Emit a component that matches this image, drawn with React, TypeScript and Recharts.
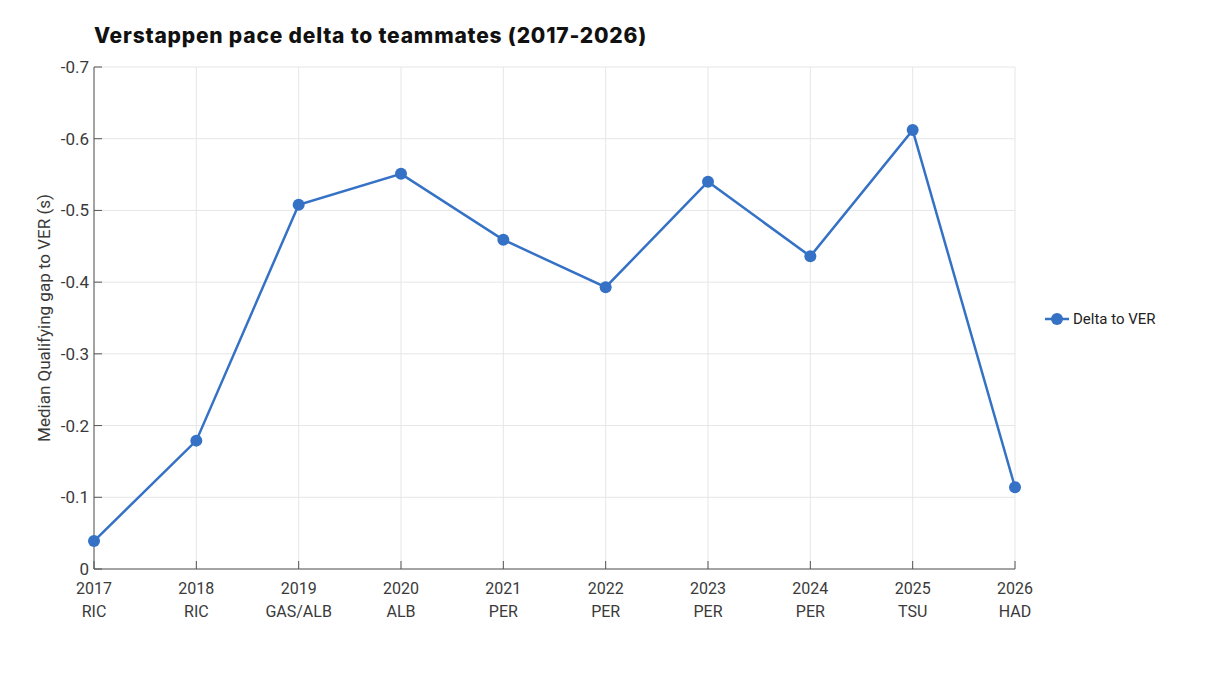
import React from "react";
import {
  LineChart, Line, XAxis, YAxis, CartesianGrid,
} from "recharts";

const YEARS = ["2017", "2018", "2019", "2020", "2021", "2022", "2023", "2024", "2025", "2026"];
const TEAMMATES = ["RIC", "RIC", "GAS/ALB", "ALB", "PER", "PER", "PER", "PER", "TSU", "HAD"];
const DELTA = [-0.039, -0.179, -0.508, -0.551, -0.459, -0.393, -0.540, -0.436, -0.612, -0.114];
const Y_TICKS = [0, -0.1, -0.2, -0.3, -0.4, -0.5, -0.6, -0.7];

const BLUE = "#3572c6";
const TEXT = "#3a3a3a";
const FONT = "Roboto, 'Open Sans', sans-serif";

const data = YEARS.map((y, i) => ({ year: y, mate: TEAMMATES[i], delta: DELTA[i] }));

// two-line category label with an inward tick mark
function XTick(props: any) {
  const { x, y, payload, index } = props;
  return (
    <g>
      <line x1={x} y1={y} x2={x} y2={y - 8} stroke="#555" strokeWidth={1} />
      <text x={x} y={y + 25} textAnchor="middle" fill={TEXT} fontSize={16} fontFamily={FONT}>
        {payload.value}
      </text>
      <text x={x} y={y + 48} textAnchor="middle" fill={TEXT} fontSize={16} fontFamily={FONT}>
        {TEAMMATES[index]}
      </text>
    </g>
  );
}

function YTick(props: any) {
  const { x, y, payload } = props;
  const v = payload.value;
  const label = v === 0 ? "0" : v.toFixed(1);
  return (
    <g>
      <line x1={x + 5} y1={y} x2={x + 13} y2={y} stroke="#555" strokeWidth={1} />
      <text x={x} y={y} dy="0.35em" textAnchor="end" fill={TEXT} fontSize={17} fontFamily={FONT}>
        {label}
      </text>
    </g>
  );
}

function LegendBox() {
  return (
    <div
      style={{
        position: "absolute", left: 1036, top: 302,
        display: "flex", alignItems: "center", fontFamily: FONT, fontSize: 15, color: "#222",
      }}
    >
      <svg width={26} height={14} style={{ marginRight: 3 }}>
        <line x1={1} y1={7} x2={25} y2={7} stroke={BLUE} strokeWidth={2.5} />
        <circle cx={13} cy={7} r={6} fill={BLUE} />
      </svg>
      <span>Delta to VER</span>
    </div>
  );
}

export default function App() {
  return (
    <div style={{ position: "relative", width: 1190, height: 660, background: "#fff" }}>
      <div
        style={{
          position: "absolute", left: 86, top: 17, zIndex: 2,
          fontFamily: "Inter, sans-serif", fontWeight: 800, fontSize: 21,
          color: "#111", lineHeight: 1, letterSpacing: 0.8,
        }}
      >
        Verstappen pace delta to teammates (2017-2026)
      </div>
      <LegendBox />
      <LineChart
        width={1190}
        height={660}
        data={data}
        margin={{ top: 59, right: 183, bottom: 0, left: 0 }}
      >
        <CartesianGrid stroke="#e6e6e6" strokeWidth={1} />
        <XAxis
          dataKey="year"
          height={99}
          tick={<XTick />}
          tickLine={false}
          tickSize={0}
          tickMargin={0}
          axisLine={{ stroke: "#555", strokeWidth: 1 }}
          interval={0}
        />
        <YAxis
          width={86}
          type="number"
          domain={[-0.7, 0]}
          ticks={Y_TICKS}
          reversed
          tick={<YTick />}
          tickLine={false}
          tickSize={0}
          tickMargin={5}
          axisLine={{ stroke: "#555", strokeWidth: 1 }}
          label={() => (
            <text
              x={36}
              y={310}
              transform="rotate(-90 36 310)"
              textAnchor="middle"
              dominantBaseline="central"
              fill={TEXT}
              fontSize={17}
              fontFamily={FONT}
            >
              Median Qualifying gap to VER (s)
            </text>
          )}
        />
        <Line
          type="linear"
          dataKey="delta"
          name="Delta to VER"
          stroke={BLUE}
          strokeWidth={2.5}
          dot={{ r: 6, fill: BLUE, stroke: BLUE, strokeWidth: 0 }}
          activeDot={false}
          isAnimationActive={false}
        />
      </LineChart>
    </div>
  );
}
